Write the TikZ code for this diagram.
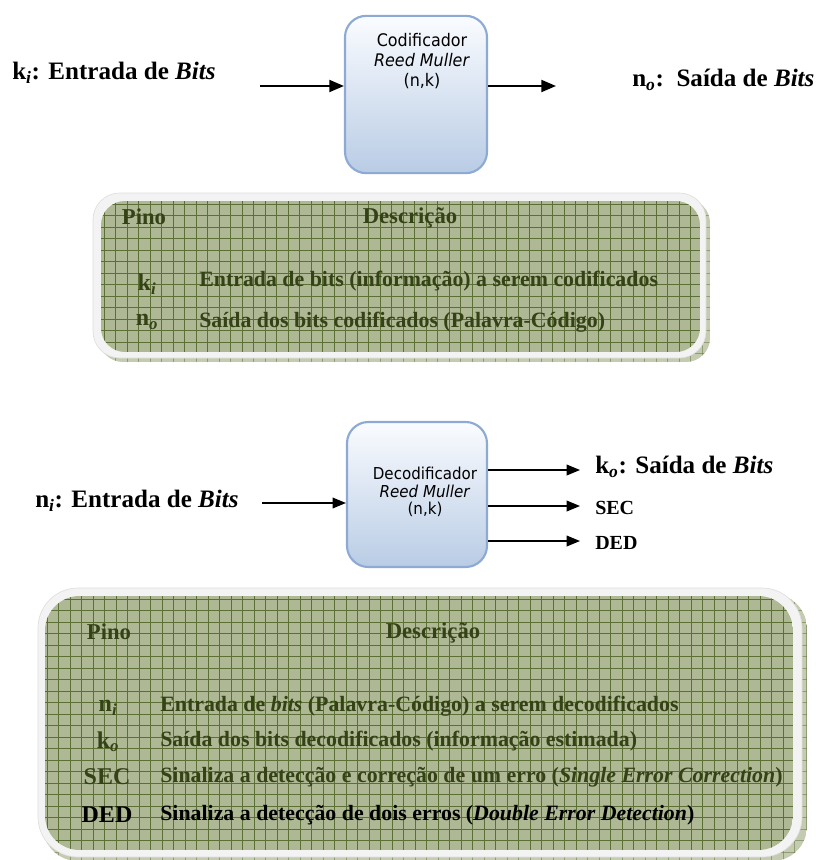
\documentclass[tikz,border=0pt]{standalone}
\usepackage{fontspec}
\setmainfont{Liberation Serif}
\newfontfamily\boxfont[FakeStretch=0.92]{DejaVu Sans}
\usetikzlibrary{arrows.meta}
\newcommand\mysub[1]{\textsubscript{\textit{#1}}}
\definecolor{olive}{RGB}{52,66,22}
\definecolor{gfill}{RGB}{174,184,148}
\definecolor{gline}{RGB}{92,112,54}
\definecolor{gshadow}{RGB}{196,203,176}
\definecolor{rim}{RGB}{243,243,243}
\definecolor{rimline}{RGB}{222,222,222}
\definecolor{boxtop}{RGB}{250,252,255}
\definecolor{boxbot}{RGB}{185,204,229}
\definecolor{boxline}{RGB}{140,170,212}
\tikzset{
  codebox/.style={draw=boxline, line width=1.6pt, rounded corners=16pt,
    top color=boxtop, bottom color=boxbot, inner sep=0pt},
  boxtext/.style={font=\boxfont\fontsize{13}{15}\selectfont, align=center, text=black},
  arr/.style={line width=1.5pt, -{Triangle[length=11pt,width=9pt]}},
  arrs/.style={line width=1.1pt, -{Triangle[length=10pt,width=8pt]}},
  outlabel/.style={font=\bfseries\fontsize{18.8}{21}\selectfont, anchor=west, inner sep=0pt},
  hdr/.style={font=\bfseries\fontsize{17}{20}\selectfont, text=olive, inner sep=0pt},
  pin/.style={font=\bfseries\fontsize{18}{21}\selectfont, text=olive, inner sep=0pt},
  desc/.style={font=\bfseries\fontsize{16.4}{19}\selectfont, text=olive, anchor=west, inner sep=0pt},
  gridline/.style={draw=gline, line width=0.6pt},
}
\begin{document}
\begin{tikzpicture}[x=0.75pt,y=-0.75pt]
\useasboundingbox (0,0) rectangle (816,860);

% ---------- Encoder ----------
\node[codebox, minimum width=106.5pt, minimum height=118pt] (enc) at (416,94.5) {};
\node[boxtext] (enctxt) at (422,61) {Codificador\\\textit{Reed Muller}\\(n,k)};
\coordinate (encin) at (260,86);
\coordinate (encout) at (556,86);
\draw[arr] (encin) -- (encin -| enc.west);
\draw[arr] (encout -| enc.east) -- (encout);
\node[outlabel] (kin) at (12,73) {k\mysub{i}: Entrada de \textit{Bits}};
\node[outlabel] (nout) at (632,80) {n\mysub{o}:\ \ Saída de \textit{Bits}};

% ---------- Table 1 ----------
\begin{scope}
  \clip[rounded corners=18pt] (99,199) rectangle (710,362);
  \fill[gshadow] (99,199) rectangle (710,362);
  \foreach \x in {104,115.5,...,710} \draw[gridline, draw opacity=0.5] (\x,199) -- (\x,362);
  \foreach \y in {204,215.5,...,362} \draw[gridline, draw opacity=0.5] (99,\y) -- (710,\y);
\end{scope}
\fill[rim, draw=rimline, line width=0.5pt, rounded corners=20pt] (93,193) rectangle (706,358);
\begin{scope}
  \clip[rounded corners=18pt] (101,201) rectangle (700,352);
  \fill[gfill] (101,201) rectangle (700,352);
  \foreach \x in {104,115.5,...,700} \draw[gridline] (\x,201) -- (\x,352);
  \foreach \y in {204,215.5,...,352} \draw[gridline] (101,\y) -- (700,\y);
\end{scope}
\node[hdr] (t1pino) at (144,217) {Pino};
\node[hdr] (t1desc) at (410,218) {Descrição};
\node[pin] (t1k) at (147,284) {k\mysub{i}};
\node[desc] (t1kd) at (199,281) {Entrada de bits (informação) a serem codificados};
\node[pin] (t1n) at (147,322) {n\mysub{o}};
\node[desc] (t1nd) at (199,322) {Saída dos bits codificados (Palavra-Código)};

% ---------- Decoder ----------
\node[codebox, minimum width=105pt, minimum height=108.75pt] (dec) at (417,494.5) {};
\node[boxtext, font=\boxfont\fontsize{12.3}{12.9}\selectfont] (dectxt) at (425,492) {Decodificador\\\textit{Reed Muller}\\(n,k)};
\coordinate (decin) at (262,503);
\coordinate (o1) at (580,470);
\coordinate (o2) at (580,506);
\coordinate (o3) at (580,541);
\draw[arrs] (decin) -- (decin -| dec.west);
\draw[arrs] (o1 -| dec.east) -- (o1);
\draw[arrs] (o2 -| dec.east) -- (o2);
\draw[arrs] (o3 -| dec.east) -- (o3);
\node[outlabel] (nin) at (35,501) {n\mysub{i}: Entrada de \textit{Bits}};
\node[outlabel] (kout) at (595,467) {k\mysub{o}: Saída de \textit{Bits}};
\node[outlabel, font=\bfseries\fontsize{15}{17}\selectfont] (sec) at (595,508) {SEC};
\node[outlabel, font=\bfseries\fontsize{15}{17}\selectfont] (ded) at (595,543) {DED};

% ---------- Table 2 ----------
\begin{scope}
  \clip[rounded corners=26pt] (43,594) rectangle (807,861);
  \fill[gshadow] (43,594) rectangle (807,861);
  \foreach \x in {47,58.5,...,807} \draw[gridline, draw opacity=0.5] (\x,594) -- (\x,861);
  \foreach \y in {599,610.5,...,861} \draw[gridline, draw opacity=0.5] (43,\y) -- (807,\y);
\end{scope}
\fill[rim, draw=rimline, line width=0.5pt, rounded corners=30pt] (38,588) rectangle (802,857);
\begin{scope}
  \clip[rounded corners=26pt] (45,596) rectangle (793,850);
  \fill[gfill] (45,596) rectangle (793,850);
  \foreach \x in {47,58.5,...,793} \draw[gridline] (\x,596) -- (\x,850);
  \foreach \y in {599,610.5,...,850} \draw[gridline] (45,\y) -- (793,\y);
\end{scope}
\node[hdr] (t2pino) at (109,632) {Pino};
\node[hdr] (t2desc) at (433,633) {Descrição};
\node[pin] (t2n) at (108,708) {n\mysub{i}};
\node[desc] (t2nd) at (160,706) {Entrada de \textit{bits} (Palavra-Código) a serem decodificados};
\node[pin] (t2k) at (108,742) {k\mysub{o}};
\node[desc] (t2kd) at (160,741) {Saída dos bits decodificados (informação estimada)};
\node[pin, font=\bfseries\fontsize{18}{21}\selectfont] (t2s) at (107,777) {SEC};
\node[desc] (t2sd) at (160,777) {Sinaliza a detecção e correção de um erro (\textit{Single Error Correction})};
\node[pin, font=\bfseries\fontsize{18}{21}\selectfont, text=black] (t2d) at (107,815) {DED};
\node[desc, text=black] (t2dd) at (160,815) {Sinaliza a detecção de dois erros (\textit{Double Error Detection})};
\end{tikzpicture}
\end{document}
